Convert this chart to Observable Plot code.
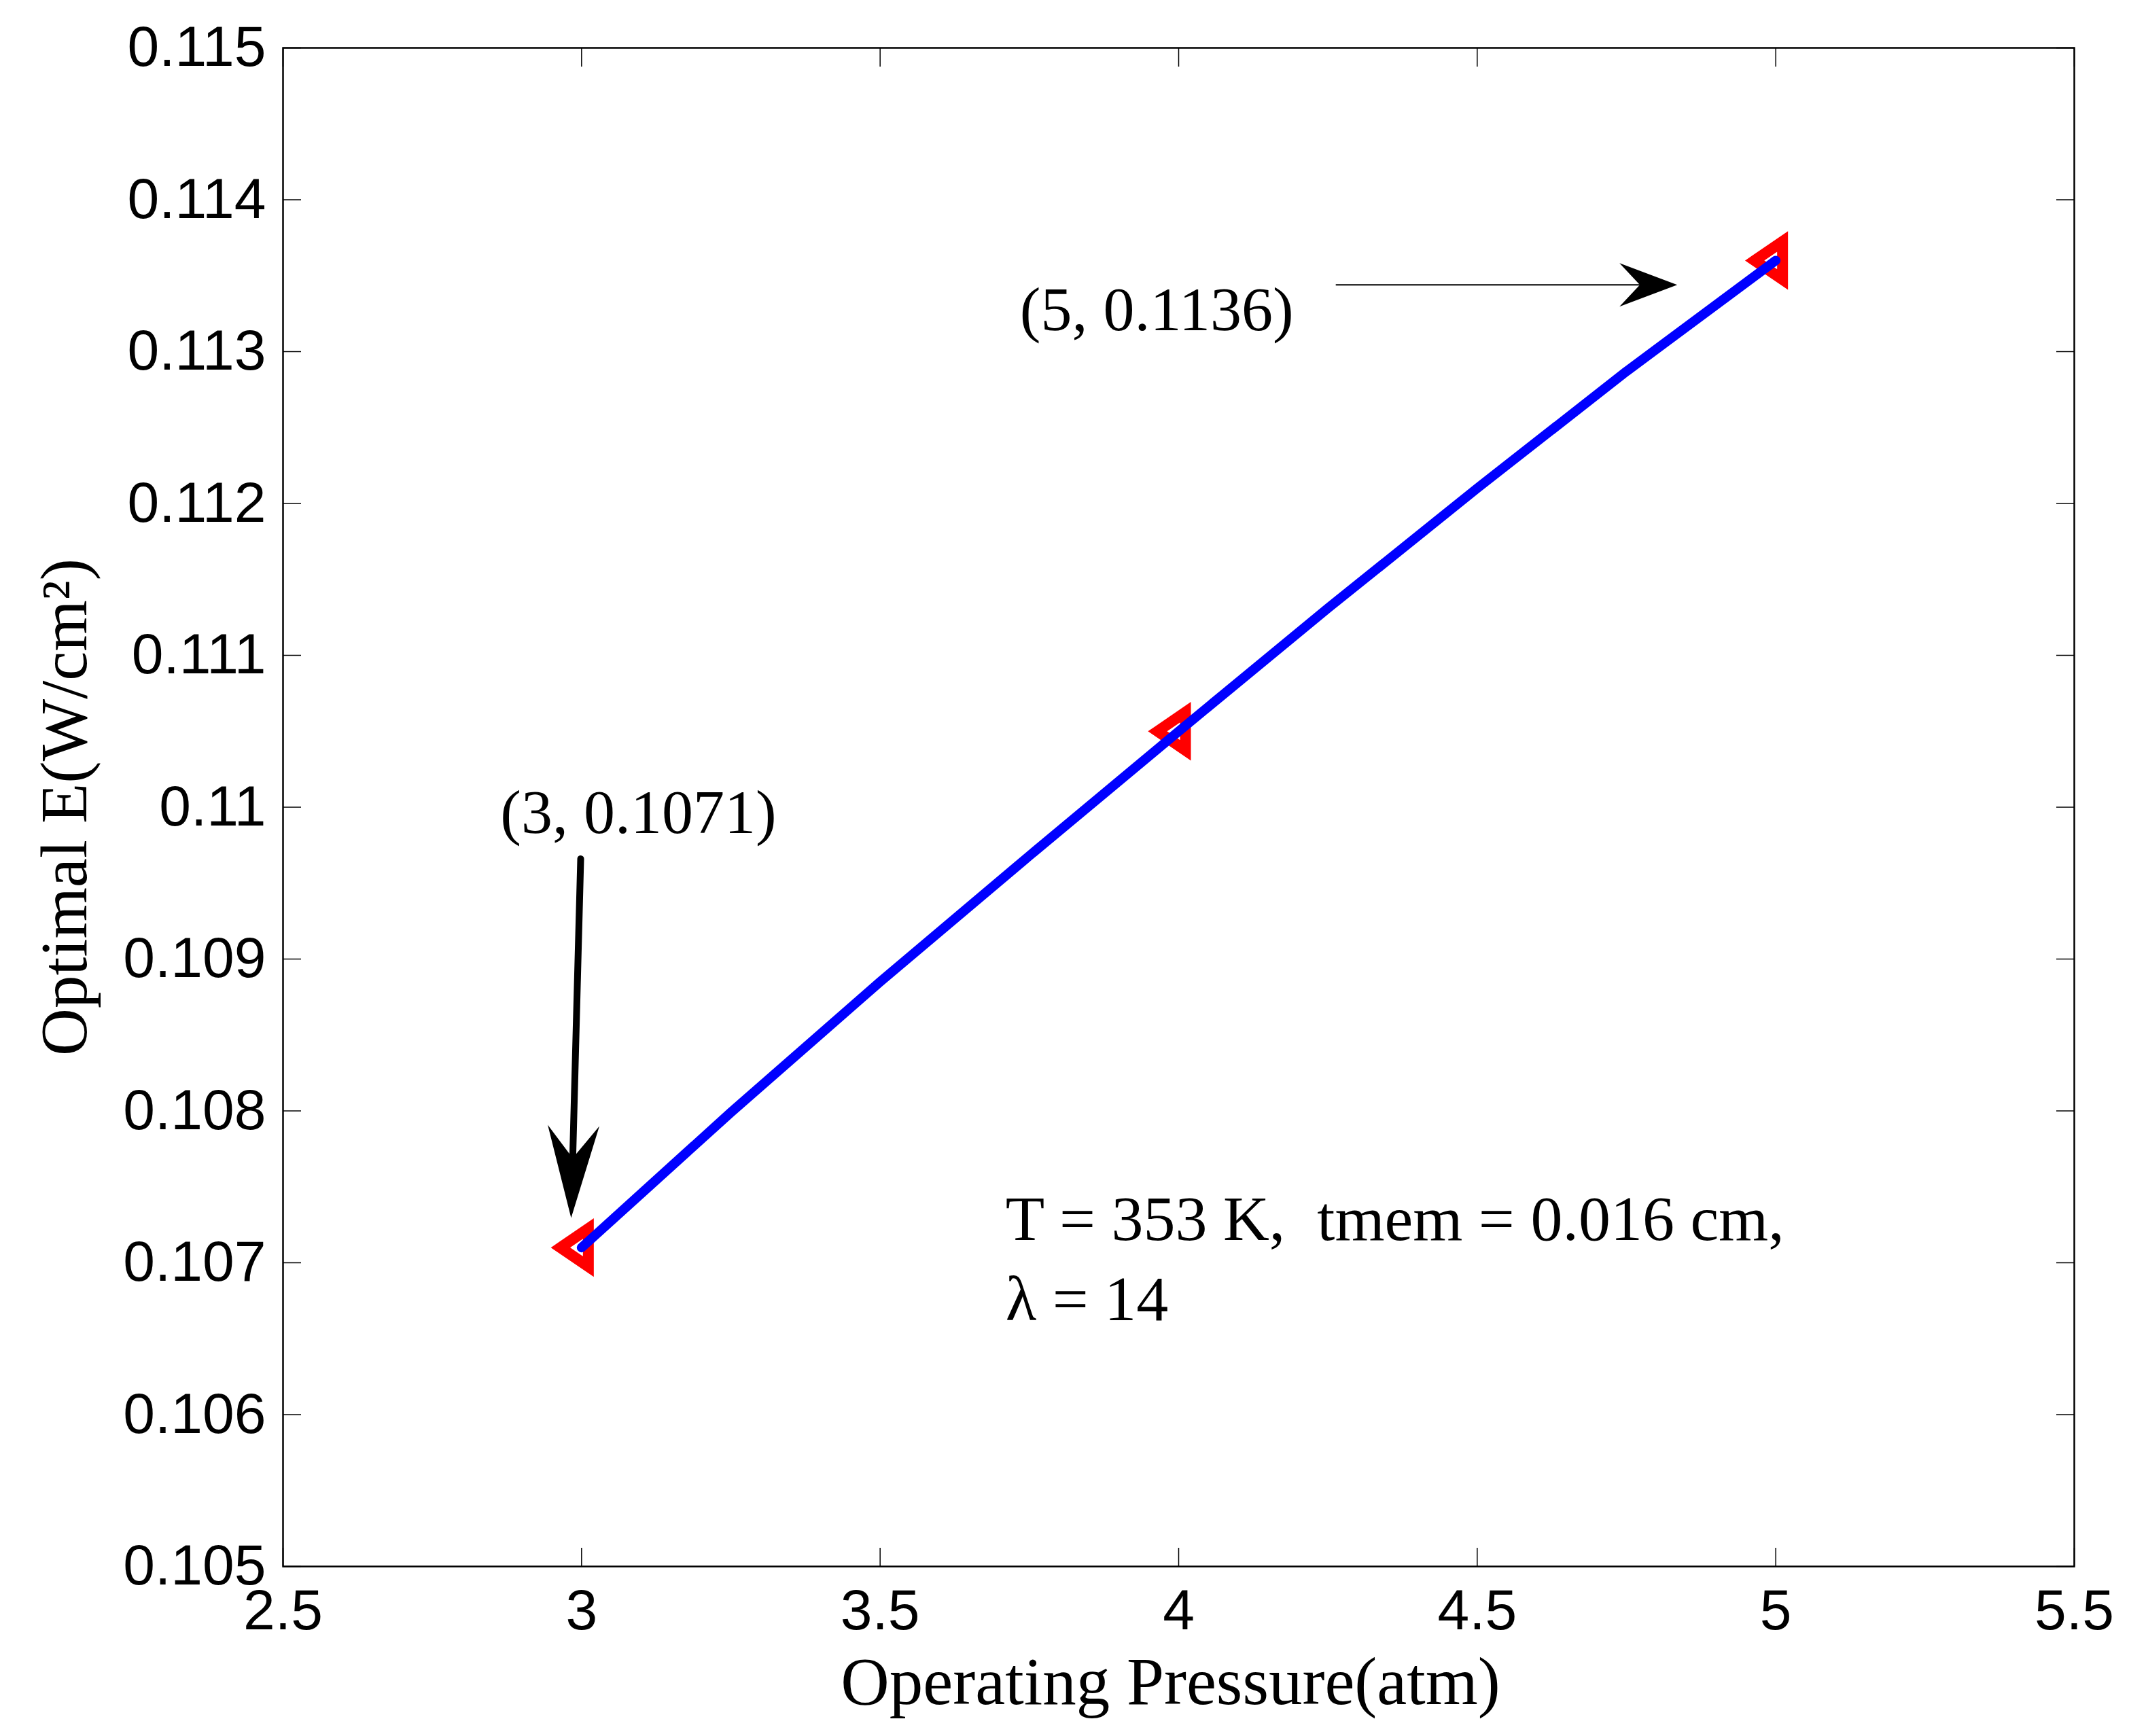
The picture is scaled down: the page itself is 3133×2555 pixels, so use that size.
<!DOCTYPE html>
<html><head><meta charset="utf-8">
<script src="https://cdn.jsdelivr.net/npm/d3@7"></script>
<script src="https://cdn.jsdelivr.net/npm/@observablehq/plot@0.6"></script>
<style>body{margin:0;background:#fff}</style>
</head><body><div id="chart"></div>
<script>
// Data
const pressure = [3, 3.25, 3.5, 3.75, 4, 4.25, 4.5, 4.75, 5];
const optimalE = [0.1071, 0.10799, 0.10885, 0.10968, 0.1105, 0.11131, 0.1121, 0.11287, 0.1136];
const markerP = [3, 4, 5];
const markerE = [0.1071, 0.1105, 0.1136];

const xTicks = [2.5, 3, 3.5, 4, 4.5, 5, 5.5];
const xTickLabels = ["2.5", "3", "3.5", "4", "4.5", "5", "5.5"];
const yTicks = [0.105, 0.106, 0.107, 0.108, 0.109, 0.11, 0.111, 0.112, 0.113, 0.114, 0.115];
const yTickLabels = ["0.105", "0.106", "0.107", "0.108", "0.109", "0.11", "0.111", "0.112", "0.113", "0.114", "0.115"];

const xLabel = "Operating Pressure(atm)";
const yLabel = "Optimal E(W/cm\u00B2)";

// annotations (data coordinates)
const annLabels = ["(3, 0.1071)", "(5, 0.1136)", "T = 353 K,  tmem = 0.016 cm,", "\u03BB = 14"];
const annX = [2.864, 3.734, 3.710, 3.710];
const annY = [0.10983, 0.11314, 0.10715, 0.10662];

const arrowX1 = [2.9985, 4.264];
const arrowY1 = [0.10966, 0.11344];
const arrowX2 = [2.9825, 4.835];
const arrowY2 = [0.107295, 0.11344];
const arrowAngle = [181.5, 90];

const serif = "'Liberation Serif', 'Times New Roman', serif";
const sans = "'Liberation Sans', Arial, Helvetica, sans-serif";

const series = pressure.map((p, i) => ({p, e: optimalE[i]}));
const markers = markerP.map((p, i) => ({p, e: markerE[i]}));

const triLeft = {draw(ctx) { ctx.moveTo(-31, 0); ctx.lineTo(10, -28); ctx.lineTo(10, 28); ctx.closePath(); }};
const headBig = {draw(ctx) { ctx.moveTo(0, 0); ctx.lineTo(38, 136); ctx.lineTo(0, 88); ctx.lineTo(-38, 136); ctx.closePath(); }};
const headSmall = {draw(ctx) { ctx.moveTo(0, 0); ctx.lineTo(32, 85); ctx.lineTo(0, 55); ctx.lineTo(-32, 85); ctx.closePath(); }};

const noText = () => "";

const chart = Plot.plot({
  width: 3133,
  height: 2555,
  marginLeft: 416,
  marginRight: 81,
  marginTop: 70,
  marginBottom: 250,
  style: {fontFamily: sans, background: "white", color: "black"},
  x: {domain: [2.5, 5.5], label: null},
  y: {domain: [0.105, 0.115], label: null},
  marks: [
    // inward ticks on all four sides
    Plot.axisX({anchor: "bottom", ticks: xTicks, tickSize: -27, tickFormat: noText, strokeWidth: 1.5, label: null}),
    Plot.axisX({anchor: "top", ticks: xTicks, tickSize: -27, tickFormat: noText, strokeWidth: 1.5, label: null}),
    Plot.axisY({anchor: "left", ticks: yTicks, tickSize: -27, tickFormat: noText, strokeWidth: 1.5, label: null}),
    Plot.axisY({anchor: "right", ticks: yTicks, tickSize: -27, tickFormat: noText, strokeWidth: 1.5, label: null}),
    // tick labels
    Plot.axisX({anchor: "bottom", ticks: xTicks, tickSize: 0, tickPadding: 33, fontSize: 84,
      tickFormat: d => xTickLabels[xTicks.indexOf(d)], label: null}),
    Plot.axisY({anchor: "left", ticks: yTicks, tickSize: 0, tickPadding: 25, fontSize: 84,
      tickFormat: d => yTickLabels[yTicks.findIndex(t => Math.abs(t - d) < 1e-9)], label: null}),
    Plot.frame({stroke: "black", strokeWidth: 2.5}),
    // axis titles
    Plot.text([xLabel], {frameAnchor: "bottom", textAnchor: "middle", lineAnchor: "bottom", dy: 202, dx: -12,
      fontFamily: serif, fontSize: 99, fill: "black"}),
    Plot.text([yLabel], {frameAnchor: "left", textAnchor: "middle", lineAnchor: "bottom", rotate: -90, dx: -290, dy: 0,
      fontFamily: serif, fontSize: 97, fill: "black"}),
    // markers then line
    Plot.dot(markers, {x: "p", y: "e", symbol: triLeft, stroke: "#ff0000", fill: "none",
      strokeWidth: 16, strokeLinejoin: "miter"}),
    Plot.line(series, {x: "p", y: "e", stroke: "#0000ff", strokeWidth: 14, curve: "linear"}),
    // annotation arrows
    Plot.arrow([0], {x1: i => arrowX1[i], y1: i => arrowY1[i], x2: i => arrowX2[i], y2: i => arrowY2[i],
      stroke: "black", strokeWidth: 10, headLength: 0, insetEnd: 90}),
    Plot.arrow([1], {x1: i => arrowX1[i], y1: i => arrowY1[i], x2: i => arrowX2[i], y2: i => arrowY2[i],
      stroke: "black", strokeWidth: 2, headLength: 0, insetEnd: 55}),
    Plot.dot([0], {x: i => arrowX2[i], y: i => arrowY2[i], rotate: i => arrowAngle[i], symbol: headBig, fill: "black", stroke: "none"}),
    Plot.dot([1], {x: i => arrowX2[i], y: i => arrowY2[i], rotate: i => arrowAngle[i], symbol: headSmall, fill: "black", stroke: "none"}),
    // annotation texts
    Plot.text([0, 1], {x: i => annX[i], y: i => annY[i], text: i => annLabels[i], textAnchor: "start",
      lineAnchor: "bottom", fontFamily: serif, fontSize: 92, fill: "black"}),
    Plot.text([2, 3], {x: i => annX[i], y: i => annY[i], text: i => annLabels[i], textAnchor: "start",
      lineAnchor: "bottom", fontFamily: serif, fontSize: 94, fill: "black"})
  ]
});
document.getElementById("chart").appendChild(chart);
</script>
</body></html>
